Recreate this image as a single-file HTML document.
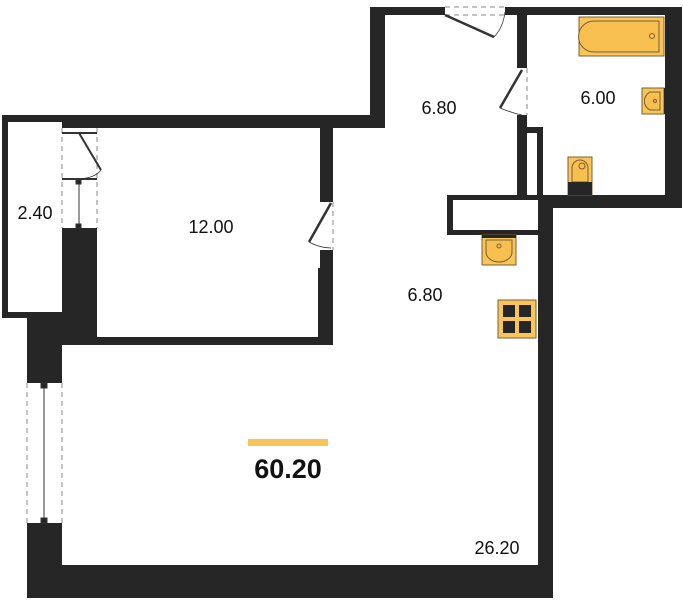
<!DOCTYPE html>
<html><head><style>html,body{margin:0;padding:0;background:#fff}svg{display:block}</style></head><body>
<svg width="683" height="600" viewBox="0 0 683 600" xmlns="http://www.w3.org/2000/svg" font-family="Liberation Sans, sans-serif">
<g fill="#262626">
<!-- balcony outline -->
<rect x="2" y="115" width="60" height="7"/>
<rect x="2" y="115" width="6" height="203"/>
<rect x="2" y="312" width="60" height="6"/>
<!-- wall between balcony and bedroom -->
<rect x="62" y="115" width="35" height="13"/>
<rect x="62" y="228" width="35" height="117"/>
<!-- pillar / living left wall -->
<rect x="27" y="312" width="35" height="71"/>
<rect x="27" y="523" width="35" height="75"/>
<!-- bedroom top wall -->
<rect x="62" y="115" width="323" height="13"/>
<!-- bedroom bottom wall -->
<rect x="62" y="337" width="271" height="8"/>
<!-- bedroom right wall -->
<rect x="320" y="128" width="13" height="74"/>
<rect x="320" y="250" width="13" height="18"/>
<rect x="318" y="268" width="15" height="77"/>
<!-- corridor left wall -->
<rect x="370" y="7" width="15" height="121"/>
<!-- top wall -->
<rect x="370" y="7" width="75" height="8"/>
<rect x="505" y="7" width="177" height="8"/>
<!-- bath right wall -->
<rect x="665" y="7" width="17" height="201"/>
<!-- bath bottom wall -->
<rect x="538" y="195" width="144" height="13"/>
<!-- corridor/bath wall -->
<rect x="517" y="7" width="10" height="61"/>
<rect x="517" y="115" width="10" height="80"/>
<!-- shaft -->
<rect x="517" y="127" width="26" height="6"/>
<rect x="537" y="127" width="6" height="70"/>
<!-- horizontal box -->
<rect x="447" y="195" width="91" height="5"/>
<rect x="447" y="195" width="6" height="40"/>
<rect x="447" y="230" width="91" height="5"/>
<!-- living right wall -->
<rect x="538" y="195" width="15" height="403"/>
<!-- bottom wall -->
<rect x="27" y="565" width="526" height="33"/>
</g>
<!-- windows/doors -->
<g stroke="#888" stroke-dasharray="5,4" fill="none" stroke-width="1">
<line x1="62" y1="128" x2="62" y2="228"/><line x1="97" y1="128" x2="97" y2="228"/>
<line x1="27" y1="383" x2="27" y2="523"/><line x1="62" y1="383" x2="62" y2="523"/>
<line x1="445" y1="7" x2="505" y2="7"/><line x1="445" y1="15" x2="505" y2="15"/>
<line x1="527" y1="68" x2="527" y2="115"/>
<line x1="333" y1="202" x2="333" y2="250"/>
</g>
<g stroke="#333" fill="none">
<line x1="62" y1="133" x2="97" y2="133" stroke-width="2"/>
<line x1="62" y1="179" x2="97" y2="179" stroke-width="2"/>
<line x1="79" y1="133" x2="101" y2="170" stroke-width="2"/>
<path d="M79 179 Q95 178 101 170" stroke-width="0.8"/>
<line x1="79" y1="182" x2="79" y2="228" stroke-width="1"/>
<rect x="76" y="180" width="5" height="4" fill="#262626"/>
<rect x="76" y="224" width="5" height="4" fill="#262626"/>
<line x1="44" y1="386" x2="44" y2="520" stroke-width="1"/>
<rect x="41" y="383" width="6" height="5" fill="#262626"/>
<rect x="41" y="518" width="6" height="5" fill="#262626"/>
<line x1="445" y1="15" x2="494" y2="37" stroke-width="2.5"/>
<path d="M494 37 Q503 28 505 12" stroke-width="0.8"/>
<line x1="522" y1="70" x2="500" y2="108" stroke-width="2.5"/>
<path d="M500 108 Q512 113 522 115" stroke-width="0.8"/>
<line x1="331" y1="203" x2="309" y2="242" stroke-width="2.5"/>
<path d="M309 242 Q320 248 331 248" stroke-width="0.8"/>
</g>
<!-- fixtures -->
<g fill="#f9c55a" stroke="#7a6030" stroke-width="1">
<rect x="579" y="17" width="85" height="39"/>
<path d="M594 21 H659 V52 H594 A15 15 0 0 1 594 21 Z" fill="#f6bf4f"/>
<circle cx="652" cy="36" r="2.5" fill="none"/>
<rect x="642" y="88" width="22" height="26"/>
<path d="M660 92 H650 A10 10 0 0 0 650 110 H660 Z" fill="#f6bf4f"/>
<rect x="568" y="157" width="24" height="38"/>
<path d="M572 182 V168 A8 8 0 0 1 588 168 V182 Z" fill="#f6bf4f"/>
<rect x="482" y="235" width="34" height="30"/>
<path d="M486 240 H512 V252 A13 10 0 0 1 486 252 Z" fill="#f6bf4f"/>
<rect x="498" y="300" width="38" height="38"/>
</g>
<g fill="#262626">
<rect x="568" y="182" width="24" height="13"/>
<rect x="664" y="88" width="2" height="26"/>
<rect x="482" y="235" width="34" height="3"/>
<rect x="503" y="305" width="12" height="12"/><rect x="519" y="305" width="12" height="12"/>
<rect x="503" y="321" width="12" height="12"/><rect x="519" y="321" width="12" height="12"/>
</g>
<circle cx="582" cy="166" r="3" fill="none" stroke="#7a6030"/>
<circle cx="499" cy="246" r="2" fill="none" stroke="#7a6030"/>
<circle cx="655" cy="101" r="1.5" fill="none" stroke="#7a6030"/>
<rect x="248" y="439" width="80" height="7" fill="#f9c55a"/>
<g fill="#111" font-size="18">
<text x="439" y="114" text-anchor="middle">6.80</text>
<text x="598" y="104" text-anchor="middle">6.00</text>
<text x="425" y="301" text-anchor="middle">6.80</text>
<text x="211" y="233" text-anchor="middle">12.00</text>
<text x="35" y="219" text-anchor="middle">2.40</text>
<text x="497" y="554" text-anchor="middle">26.20</text>
<text x="288" y="478" text-anchor="middle" font-size="27" font-weight="bold">60.20</text>
</g>
</svg>
</body></html>
